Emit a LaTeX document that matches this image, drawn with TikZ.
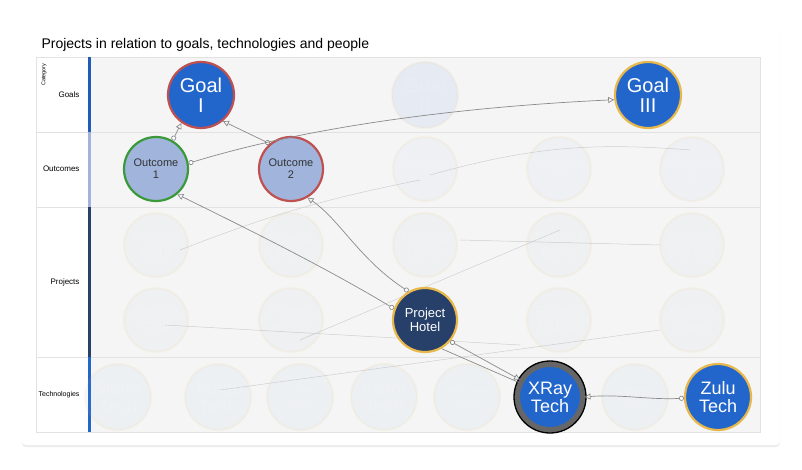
\documentclass[tikz,border=0pt]{standalone}
\usepackage{fontspec}
\setmainfont{Liberation Sans}
\usetikzlibrary{arrows.meta,shadows}
\definecolor{bgc}{HTML}{F5F5F5}
\definecolor{gridc}{HTML}{E2E2E2}
\definecolor{nblue}{HTML}{2266CC}
\definecolor{lblue}{HTML}{A0B4DC}
\definecolor{navy}{HTML}{27406A}
\definecolor{bred}{HTML}{C05050}
\definecolor{bgreen}{HTML}{3A9A3A}
\definecolor{byel}{HTML}{E8B84A}
\definecolor{edgec}{HTML}{8A8A8A}
\tikzset{
 nd/.style={circle,minimum size=#1,inner sep=0pt,line width=2.2pt,align=center},
 goal/.style={nd=66pt,fill=nblue,text=white,font=\fontsize{20}{20}\selectfont},
 outc/.style={nd=64pt,fill=lblue,text=black!80,font=\fontsize{11}{12}\selectfont},
 proj/.style={nd=64pt,fill=navy,text=white,font=\fontsize{13}{14}\selectfont},
 tech/.style={nd=66pt,fill=nblue,text=white,font=\fontsize{18}{18}\selectfont},
 faded/.style={fill opacity=0.07,draw opacity=0.07,text opacity=0.14,draw=byel,text=white},
 ed/.style={draw=edgec,line width=0.7pt,{Circle[open,length=5pt,width=5pt,fill=white]}-{Triangle[open,length=6pt,width=6pt]}},
 fed/.style={draw=edgec!40,line width=0.5pt},
 rowlab/.style={font=\fontsize{8}{9}\selectfont,anchor=east}
}
\begin{document}
\begin{tikzpicture}[x=1pt,y=-1pt]
\useasboundingbox (0,0) rectangle (802,470);
\fill[white] (0,0) rectangle (802,470);
\fill[white,drop shadow={opacity=0.15,shadow xshift=0pt,shadow yshift=-2pt},rounded corners=4pt] (22,25) rectangle (780,445);
\node[anchor=west,font=\fontsize{14}{16}\selectfont] (title) at (38,45) {Projects in relation to goals, technologies and people};
% plot area
\fill[bgc] (91,57) rectangle (760,432);
\draw[gridc] (36,57) rectangle (760,432);
\foreach \y in {132,207,357} \draw[gridc] (36,\y) -- (760,\y);
\fill[nblue!90!black] (88,57) rectangle (91,132);
\fill[lblue] (88,132) rectangle (91,207);
\fill[navy] (88,207) rectangle (91,357);
\fill[nblue] (88,357) rectangle (91,432);
\node[rotate=90,anchor=east,font=\fontsize{5.5}{6}\selectfont] (cat) at (44,60) {Category};
\node[rowlab] (lg) at (83,95) {Goals};
\node[rowlab] (lo) at (83,169) {Outcomes};
\node[rowlab] (lp) at (83,282) {Projects};
\node[rowlab,font=\fontsize{7}{8}\selectfont] (lt) at (83,395) {Technologies};
% faded edges
\draw[fed] (165,325) -- (520,345);
\draw[fed] (180,250) to[bend left=5] (420,180);
\draw[fed] (660,245) -- (460,240);
\draw[fed] (300,340) -- (560,230);
\draw[fed] (220,390) -- (660,330);
\draw[fed] (430,175) to[bend left=10] (690,150);
% faded nodes
\node[goal,faded] (g2) at (425,95) {Goal\\II};
\foreach \n/\x/\t in {o3/425/3,o4/559/4,o5/692/5}
  \node[outc,faded] (\n) at (\x,169) {Outcome\\\t};
\foreach \n/\x/\t in {pb/156/Beta,pc/291/Charlie,pd/425/Delta,pe/559/Echo,pf/692/Foxtrot}
  \node[proj,faded,fill=navy!40,font=\fontsize{15}{15}\selectfont] (\n) at (\x,245) {Project\\\t};
\foreach \n/\x/\t in {pg/156/Golf,pa/291/Alpha,pi/559/Indigo,pj/692/Juliet}
  \node[proj,faded,fill=navy!40,font=\fontsize{15}{15}\selectfont] (\n) at (\x,320) {Project\\\t};
\foreach \n/\x/\t in {ts/118/Sierra,tt/218/Tango,tv/384/Victor}
  \node[tech,faded,fill=nblue!50] (\n) at (\x,397) {\t\\Tech};
\foreach \n/\x/\t in {tu/300/Uniform,tw/467/Whiskey,ty/635/Yankee}
  \node[tech,faded,fill=nblue!50,font=\fontsize{11}{13}\selectfont] (\n) at (\x,397) {\t\\Tech};
% main nodes
\node[goal,draw=bred] (g1) at (201,95) {Goal\\I};
\node[goal,draw=byel] (g3) at (648,95) {Goal\\III};
\node[outc,draw=bgreen] (o1) at (156,169) {Outcome\\1};
\node[outc,draw=bred] (o2) at (291,169) {Outcome\\2};
\node[proj,draw=byel] (ph) at (425,320) {Project\\Hotel};
\node[tech,draw=black!60,line width=3pt,double=black,double distance=0pt] (tx) at (550,397) {XRay\\Tech};
\draw[black,line width=1.3pt] (tx) circle (36pt);
\node[tech,draw=byel] (tz) at (718,397) {Zulu\\Tech};
% edges
\draw[ed] (o1.60) -- (g1.235);
\draw[ed] (o2.130) -- (g1.310);
\draw[ed] (o1.10) .. controls (330,120) and (500,105) .. (g3.188);
\draw[ed] (ph.160) .. controls (330,270) and (250,230) .. (o1.310);
\draw[ed] (ph.120) .. controls (360,260) and (340,220) .. (o2.300);
\draw[ed] (ph.320) -- (tx.150);
\draw[edgec,line width=0.7pt] (ph.300) -- (tx.155);
\draw[ed] (tz.182) .. controls (650,400) and (620,394) .. (tx.0);
\end{tikzpicture}
\end{document}
